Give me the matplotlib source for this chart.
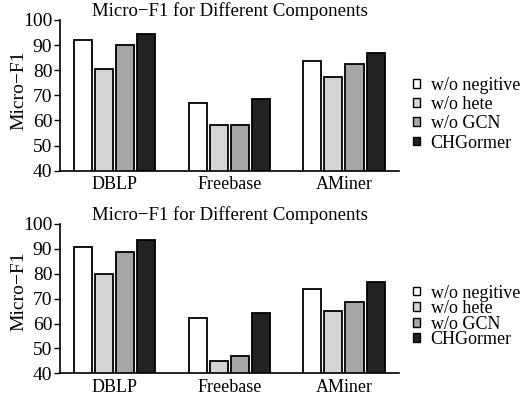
import matplotlib
matplotlib.use('Agg')
import matplotlib.pyplot as plt
import numpy as np
from matplotlib.patches import Patch

plt.rcParams['font.family'] = ['Liberation Serif', 'DejaVu Serif']

datasets = ['DBLP', 'Freebase', 'AMiner']
variants = ['w/o negitive', 'w/o hete', 'w/o GCN', 'CHGormer']
colors = ['#ffffff', '#d4d4d4', '#a6a6a6', '#222222']

# top panel
top_scores = [
    [92.1, 66.8, 83.8],   # w/o negitive
    [80.5, 58.2, 77.3],   # w/o hete
    [90.0, 58.2, 82.4],   # w/o GCN
    [94.3, 68.6, 86.9],   # CHGormer
]
# bottom panel
bottom_scores = [
    [90.9, 62.1, 73.7],
    [80.0, 44.9, 65.0],
    [88.8, 47.0, 68.8],
    [93.5, 64.1, 76.8],
]

title = 'Micro\u2212F1 for Different Components'
ylabel = 'Micro\u2212F1'

W, H = 522, 401
fig = plt.figure(figsize=(W / 100, H / 100), dpi=100)


def px_axes(left, right, top, bottom):
    return fig.add_axes([left / W, (H - bottom) / H, (right - left) / W, (bottom - top) / H])


def draw_panel(ax, scores, legend_top, spacing, label_y):
    x = np.arange(len(datasets))
    step, width = 0.184, 0.158
    for i, (name, vals) in enumerate(zip(variants, scores)):
        ax.bar(x + (i - 1.5) * step, vals, width, color=colors[i],
               edgecolor='black', linewidth=1.3, label=name)
    ax.set_xlim(-0.477, 2.48)
    ax.set_ylim(40, 100)
    ax.set_yticks(range(40, 101, 10))
    ax.set_xticks(x)
    ax.set_xticklabels(datasets, fontsize=13)
    ax.tick_params(axis='x', length=0, pad=4)
    ax.tick_params(axis='y', length=4, width=1, labelsize=14, pad=1.5)
    ax.spines['top'].set_visible(False)
    ax.spines['right'].set_visible(False)
    ax.spines['left'].set_linewidth(1.2)
    ax.spines['bottom'].set_linewidth(1.2)
    ax.set_ylabel(ylabel, fontsize=14)
    ax.yaxis.set_label_coords(-0.095, label_y)
    ax.set_title(title, fontsize=13.5, pad=2)
    handles = [Patch(facecolor=c, edgecolor='black', linewidth=1) for c in colors]
    fig.legend(handles, variants, loc='upper left',
               bbox_to_anchor=(413 / W, (H - legend_top) / H),
               frameon=False, fontsize=13, handlelength=0.38, handleheight=0.38,
               handletextpad=0.6, labelspacing=spacing, borderpad=0, borderaxespad=0)


ax1 = px_axes(60, 399, 20, 170.7)
draw_panel(ax1, top_scores, 77, 0.12, 0.535)
ax2 = px_axes(60, 399, 224, 373.3)
draw_panel(ax2, bottom_scores, 284.5, -0.08, 0.55)

fig.savefig('out.png', dpi=100)
